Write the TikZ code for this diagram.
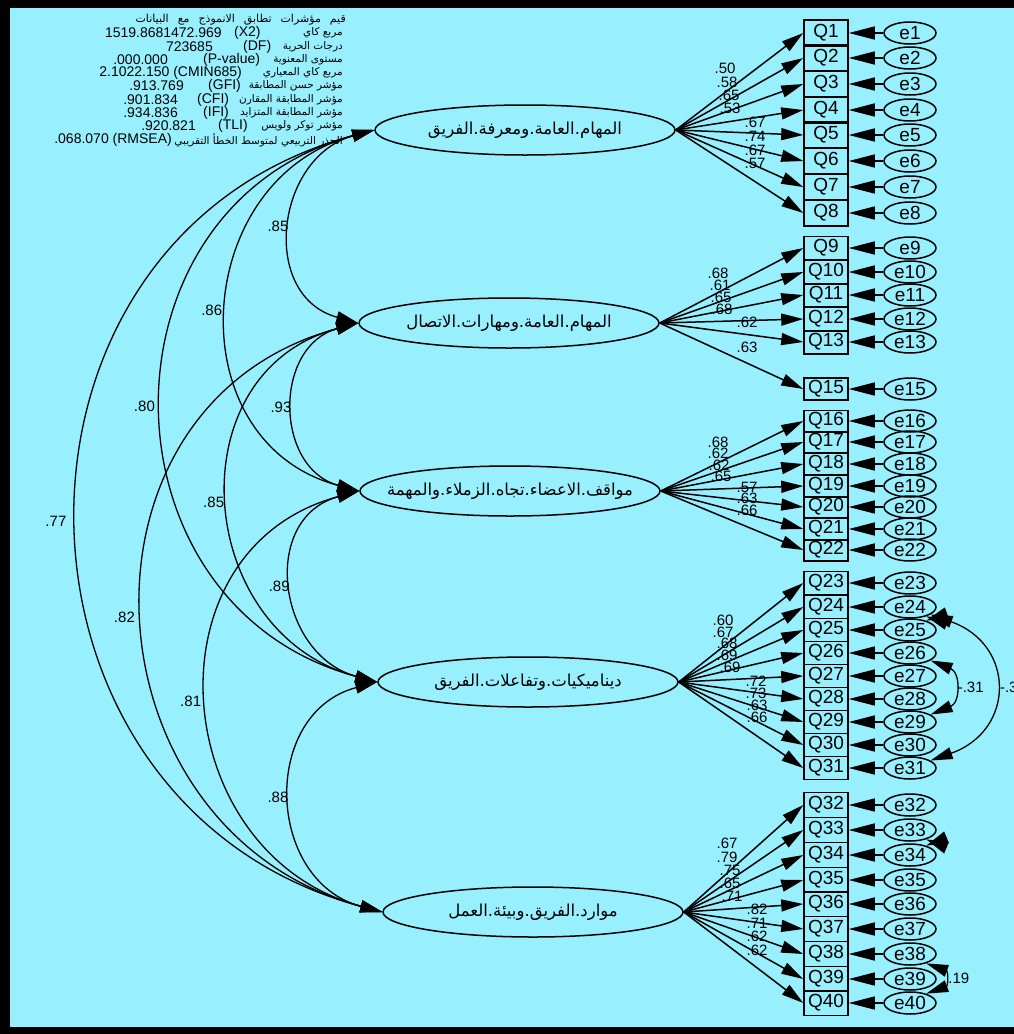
\documentclass[tikz,border=0pt]{standalone}
\usepackage{fontspec}
\setmainfont{Liberation Sans}
\newfontfamily\arabicfont[Script=Arabic]{DejaVu Sans}
\TeXXeTstate=1
\usepackage{tikz}
\usetikzlibrary{shapes.geometric, arrows.meta, calc, positioning}
\usepackage{xcolor}
\definecolor{amoscyan}{RGB}{152,240,255}
\newcommand{\artxt}[1]{\beginR #1\endR}
\newcommand{\factortxt}[1]{\makebox[0pt][c]{\beginR #1\endR}}

\begin{document}
\begin{tikzpicture}[x=1pt, y=-1pt]
        \tikzstyle{latent}=[ellipse, draw, line width=1.5pt, minimum width=300pt, minimum height=50pt, inner sep=0pt, font=\arabicfont\fontsize{16.5}{18}\selectfont]
        \tikzstyle{ind}=[rectangle, draw, line width=1.5pt, minimum width=44pt, inner sep=0pt, font=\fontsize{19}{20}\selectfont]
        \tikzstyle{err}=[ellipse, draw, line width=1.5pt, minimum width=52pt, minimum height=22pt, inner sep=0pt, font=\fontsize{19}{20}\selectfont]
        \tikzstyle{load}=[line width=1.5pt, -{Triangle[length=22pt,width=12pt]}]
        \tikzstyle{errpath}=[line width=1.5pt, -{Triangle[length=26pt,width=13pt]}]
        \tikzstyle{cov}=[line width=1.3pt, {Triangle[length=22pt,width=12pt]}-{Triangle[length=22pt,width=12pt]}]
        \tikzstyle{coef}=[inner sep=0pt, font=\fontsize{15}{16}\selectfont]
        \tikzstyle{stat}=[inner sep=0pt, font=\fontsize{14}{15}\selectfont]
        \tikzstyle{statar}=[inner sep=0pt, anchor=east, font=\arabicfont\fontsize{10.5}{12}\selectfont]

        % Frame and background
        \useasboundingbox (0,0) rectangle (1014,1034);
        \fill[black] (0,0) rectangle (1014,1034);
        \fill[amoscyan] (10,8) rectangle (1014,1027);

        % Fit indices
        \node[statar, font=\arabicfont\fontsize{11}{12}\selectfont] (s1) at (346,20) {\artxt{قيم\hspace{9pt}مؤشرات\hspace{9pt}تطابق\hspace{9pt}الانموذج\hspace{9pt}مع\hspace{9pt}البيانات}};
        \node[statar] (s2) at (343,33) {\artxt{مربع كاي}};
        \node[statar] (s3) at (343,47) {\artxt{درجات الحرية}};
        \node[statar] (s4) at (343,60) {\artxt{مستوى المعنوية}};
        \node[statar] (s5) at (343,73) {\artxt{مربع كاي المعياري}};
        \node[statar] (s6) at (343,86) {\artxt{مؤشر حسن المطابقة}};
        \node[statar] (s7) at (343,100) {\artxt{مؤشر المطابقة المقارن}};
        \node[statar] (s8) at (343,113) {\artxt{مؤشر المطابقة المتزايد}};
        \node[statar] (s9) at (343,126) {\artxt{مؤشر توكر ولويس}};
        \node[statar] (s10) at (343,140) {\artxt{الجذر التربيعي لمتوسط الخطأ التقريبي}};
        \node[stat, anchor=east] (n2) at (222,33) {1519.8681472.969};
        \node[stat, anchor=west] (t2) at (234,33) {(X2)};
        \node[stat, anchor=east] (n3) at (213,47) {723685};
        \node[stat, anchor=west] (t3) at (243,47) {(DF)};
        \node[stat, anchor=east] (n4) at (168,60) {.000.000};
        \node[stat, anchor=west] (t4) at (203,60) {(P-value)};
        \node[stat, anchor=east] (n5) at (242,73) {2.1022.150 (CMIN685)};
        \node[stat, anchor=east] (n6) at (184,86) {.913.769};
        \node[stat, anchor=west] (t6) at (208,86) {(GFI)};
        \node[stat, anchor=east] (n7) at (178,100) {.901.834};
        \node[stat, anchor=west] (t7) at (197,100) {(CFI)};
        \node[stat, anchor=east] (n8) at (178,113) {.934.836};
        \node[stat, anchor=west] (t8) at (203,113) {(IFI)};
        \node[stat, anchor=east] (n9) at (196,126) {.920.821};
        \node[stat, anchor=west] (t9) at (218,126) {(TLI)};
        \node[stat, anchor=east] (n10) at (172,140) {.068.070 (RMSEA)};

        % Latent factors
        \node[latent] (F1) at (525,130) {\factortxt{المهام.العامة.ومعرفة.الفريق}};
        \node[latent] (F2) at (509,323) {\factortxt{المهام.العامة.ومهارات.الاتصال}};
        \node[latent] (F3) at (510,491) {\factortxt{مواقف.الاعضاء.تجاه.الزملاء.والمهمة}};
        \node[latent] (F4) at (528,682) {\factortxt{ديناميكيات.وتفاعلات.الفريق}};
        \node[latent] (F5) at (533,912) {\factortxt{موارد.الفريق.وبيئة.العمل}};

        % Items, error terms and loadings
        \foreach \i/\y/\h/\f/\lx/\ly/\v in {
            1/33/25.7/F1/725/68/.50, 2/58/25.7/F1/727/82/.58, 3/84/25.7/F1/729/95/.65,
            4/110/25.7/F1/730/108/.53, 5/135/25.7/F1/755/122/.67, 6/161/25.7/F1/755/136/.74,
            7/187/25.7/F1/755/150/.67, 8/213/25.7/F1/755/163/.57,
            9/248/23.5/F2/718/273/.68, 10/272/23.5/F2/720/285/.61, 11/295/23.5/F2/721/297/.65,
            12/319/23.5/F2/722/309/.68, 13/342/23.5/F2/747/322/.62, 15/389/22/F2/747/347/.63,
            16/421/21.5/F3/718/442/.68, 17/442/21.5/F3/718/453/.62, 18/464/21.5/F3/719/465/.62,
            19/486/21.5/F3/721/476/.65, 20/507/21.5/F3/747/487/.57, 21/529/21.5/F3/747/498/.63,
            22/550/21.5/F3/747/510/.66,
            23/583/23/F4/723/620/.60, 24/607/23/F4/723/632/.67, 25/630/23/F4/727/643/.68,
            26/653/23/F4/727/655/.69, 27/676/23/F4/730/667/.69, 28/699/23/F4/756/681/.72,
            29/722/23/F4/756/693/.73, 30/745/23/F4/757/705/.63, 31/768/23/F4/757/717/.66,
            32/805/24.75/F5/727/843/.67, 33/830/24.75/F5/727/857/.79, 34/855/24.75/F5/730/870/.75,
            35/880/24.75/F5/730/883/.65, 36/904/24.75/F5/732/896/.71, 37/929/24.75/F5/757/909/.82,
            38/954/24.75/F5/757/923/.71, 39/979/24.75/F5/757/936/.62, 40/1003/24.75/F5/757/950/.62}{
            \node[ind, minimum height=\h pt] (Q\i) at (826,\y) {Q\i};
            \node[err] (e\i) at (910,\y) {e\i};
            \draw[errpath] (e\i) -- (Q\i);
            \draw[load] (\f.east) -- (Q\i.west);
            \node[coef] (w\i) at (\lx,\ly) {\v};
        }

        % Factor covariances
        \draw[cov] (F1.west) .. controls +(-99,27) and +(-99,-27) .. (F2.west) node[coef, pos=0.5, left=3pt] (c12) {.85};
        \draw[cov] (F2.west) .. controls +(-85,23) and +(-85,-23) .. (F3.west) node[coef, pos=0.5, left=3pt] (c23) {.93};
        \draw[cov] (F3.west) .. controls +(-100,27) and +(-100,-27) .. (F4.west) node[coef, pos=0.5, left=3pt] (c34) {.89};
        \draw[cov] (F4.west) .. controls +(-117,31) and +(-117,-31) .. (F5.west) node[coef, pos=0.5, left=3pt] (c45) {.88};
        \draw[cov] (F1.west) .. controls +(-184,49) and +(-184,-49) .. (F3.west) node[coef, pos=0.5, left=6pt] (c13) {.86};
        \draw[cov] (F2.west) .. controls +(-184,49) and +(-184,-49) .. (F4.west) node[coef, pos=0.5, left=5pt] (c24) {.85};
        \draw[cov] (F3.west) .. controls +(-216,58) and +(-216,-58) .. (F5.west) node[coef, pos=0.5, left=7pt] (c35) {.81};
        \draw[cov] (F1.west) .. controls +(-283,76) and +(-283,-76) .. (F4.west) node[coef, pos=0.5, left=8pt] (c14) {.80};
        \draw[cov] (F2.west) .. controls +(-301,81) and +(-301,-81) .. (F5.west) node[coef, pos=0.5, left=9pt] (c25) {.82};
        \draw[cov] (F1.west) .. controls +(-399,107) and +(-399,-107) .. (F5.west) node[coef, pos=0.5, left=12pt] (c15) {.77};

        % Error covariances
        \draw[cov] (e24.-30) .. controls +(14,5) and +(14,-5) .. (e25.30);
        \draw[cov] (e24.-20) .. controls +(85,30) and +(85,-30) .. (e31.20) node[coef, pos=0.5, right=5pt] (r2431) {-.3};
        \draw[cov] (e26.-20) .. controls +(30,12) and +(30,-12) .. (e29.20) node[coef, pos=0.5, right=4pt] (r2629) {-.31};
        \draw[cov] (e33.-30) .. controls +(12,5) and +(12,-5) .. (e34.30);
        \draw[cov] (e38.-30) .. controls +(22,8) and +(22,-8) .. (e40.30) node[coef, pos=0.5, right=5pt] (r3840) {.19};
\end{tikzpicture}
\end{document}
